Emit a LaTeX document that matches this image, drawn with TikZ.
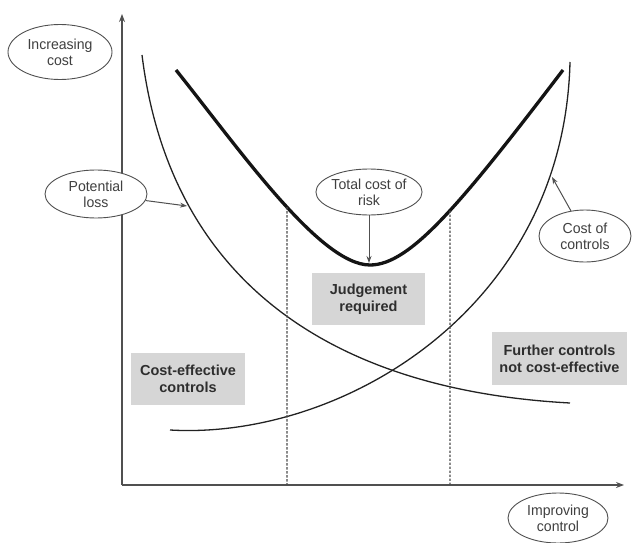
\documentclass[tikz,border=0pt]{standalone}
\usepackage{fontspec}
\setmainfont{Liberation Sans}
\newfontfamily\tagfont[FakeStretch=0.97]{Liberation Sans}
\usetikzlibrary{arrows.meta,shapes.geometric,intersections}

\definecolor{axisgray}{HTML}{505050}
\definecolor{boxgray}{HTML}{D6D6D6}
\definecolor{inkgray}{HTML}{404040}
\definecolor{curveink}{HTML}{222222}

\tikzset{
  tag/.style={ellipse, draw=axisgray, fill=white, line width=0.9pt, inner sep=0pt, align=center,
    text=inkgray, font=\tagfont\fontsize{14.5}{16}\selectfont},
  zone/.style={fill=boxgray, inner sep=0pt, align=center, text=black!82,
    font=\bfseries\fontsize{14.5}{17}\selectfont},
  axisline/.style={draw=axisgray, line width=1.3pt, -{Stealth[length=8pt,width=6pt]}},
  curve/.style={draw=curveink, line width=1.3pt},
  totalcurve/.style={draw=black!92, line width=3.3pt},
  pointer/.style={draw=axisgray, line width=1pt, -{Stealth[length=7pt,width=5pt]}},
  divider/.style={draw=black!70, line width=1.3pt, dash pattern=on 2.4pt off 1.6pt}
}

\begin{document}
\begin{tikzpicture}[x=1pt,y=-1pt]
  \useasboundingbox (0,0) rectangle (632,543);

  % axes
  \coordinate (origin) at (122,485);
  \coordinate (ytop) at (122,14);
  \coordinate (xend) at (624,485);
  \draw[axisline] (origin) -- (ytop);
  \draw[axisline] (origin) -- (xend);

  % potential loss (falling curve)
  \draw[curve] (142,55) .. controls (170,280) and (330,390) .. (570,403);

  % cost of controls (rising curve)
  \draw[curve] (170,430) .. controls (340,440) and (564,310) .. (570,62);

  % total cost of risk
  \draw[totalcurve, name path=total]
    (176,70) .. controls (240,150) and (320,265) .. (370,265)
             .. controls (410,265) and (460,205) .. (563,70);

  % region dividers from the total-cost curve down to the axis
  \coordinate (lbase) at (287,485);
  \coordinate (rbase) at (450,485);
  \path[name path=lv] (287,100) -- (lbase);
  \path[name path=rv] (450,100) -- (rbase);
  \path[name intersections={of=total and lv, by=ltop}];
  \path[name intersections={of=total and rv, by=rtop}];
  \draw[divider] (ltop) -- (lbase);
  \draw[divider] (rtop) -- (rbase);

  % labels on the axes
  \node[tag, minimum width=104pt, minimum height=55pt] (ycost) at (60,52) {Increasing\\cost};
  \node[tag, minimum width=100pt, minimum height=50pt] (xctrl) at (558,518) {Improving\\control};

  % curve labels
  \node[tag, minimum width=102pt, minimum height=48pt] (loss) at (96,194) {Potential\\loss};
  \node[tag, minimum width=102pt, minimum height=46pt] (total) at (369,192) {Total cost of\\risk};
  \node[tag, minimum width=92pt, minimum height=52pt] (ctrl) at (585,236) {Cost of\\controls};

  \coordinate (losstip) at (187,206);
  \coordinate (totaltip) at (369,263);
  \coordinate (ctrltip) at (552,177);
  \draw[pointer] (loss) -- (losstip);
  \draw[pointer] (total) -- (totaltip);
  \draw[pointer] (ctrl) -- (ctrltip);

  % region captions
  \node[zone, minimum width=113pt, minimum height=52pt] (judge) at (368.5,299) {Judgement\\required};
  \node[zone, minimum width=114pt, minimum height=52pt] (effective) at (188,379) {Cost-effective\\controls};
  \node[zone, minimum width=135pt, minimum height=53pt] (further) at (559.5,358.5) {Further controls\\not cost-effective};
\end{tikzpicture}
\end{document}
